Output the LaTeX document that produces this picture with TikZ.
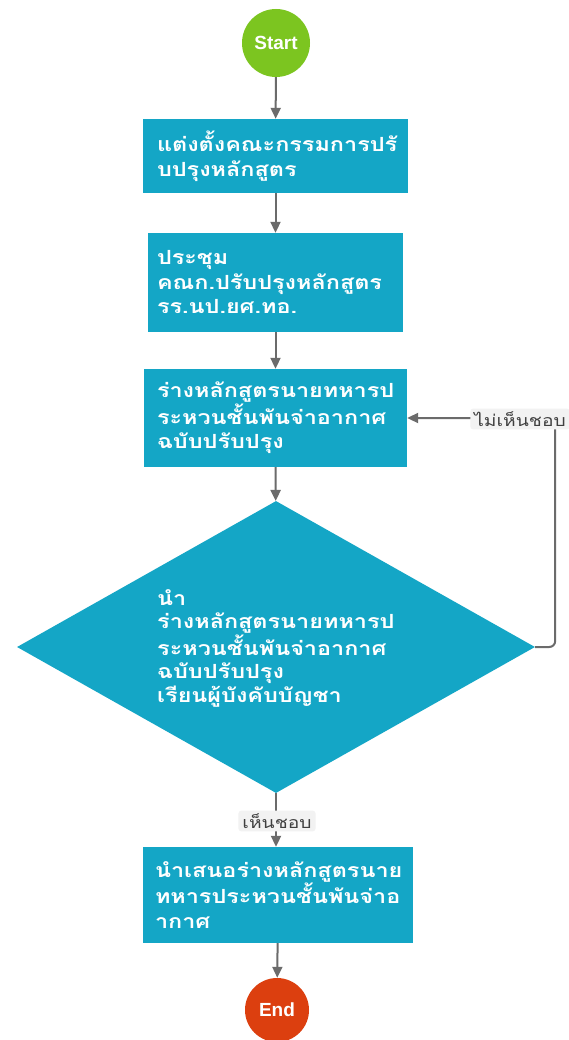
\documentclass[tikz,border=0pt]{standalone}
\usepackage{fontspec}
\newfontfamily\thaifont[Script=Thai, FakeStretch=1.2]{Loma}
\newfontfamily\endfont{Liberation Sans}
\usetikzlibrary{shapes.geometric,arrows.meta}
\definecolor{boxc}{HTML}{14A6C6}
\definecolor{startc}{HTML}{7CC520}
\definecolor{endc}{HTML}{DC3F0F}
\definecolor{linec}{HTML}{6B6B6B}
\definecolor{lblbg}{HTML}{F2F2F2}
\definecolor{lbltext}{HTML}{404040}
\tikzset{
  box/.style={draw=none, fill=boxc, text=white, align=left, inner ysep=4pt,
    font=\thaifont\bfseries\fontsize{19.5}{24.5}\selectfont},
  term/.style={circle, draw=none, text=white, minimum size=#1, inner sep=0pt,
    font=\endfont\bfseries\fontsize{19}{22}\selectfont},
  dec/.style={shape=diamond, fill=boxc, draw=none, inner sep=0pt},
  dectext/.style={text=white, align=left, inner sep=0pt, anchor=west,
    font=\thaifont\bfseries\fontsize{19.5}{23.5}\selectfont},
  conn/.style={draw=linec, line width=2pt, -{Triangle[length=11pt,width=10pt]}},
  lbl/.style={fill=lblbg, rounded corners=3pt, text=lbltext, inner xsep=4pt, inner ysep=3pt,
    font=\thaifont\fontsize{16}{19}\selectfont}
}
\begin{document}
\begin{tikzpicture}[x=1pt,y=-1pt]
\useasboundingbox[fill=white] (0,0) rectangle (569,1040);

\node[term=68pt, fill=startc] (start) at (276,43) {Start};
\node[box, text width=237pt, inner xsep=14pt, minimum height=74pt] (b1) at (275.5,156)
  {แต่งตั้งคณะกรรมการปรั\\บปรุงหลักสูตร};
\node[box, text width=237pt, inner xsep=9pt, minimum height=99pt] (b2) at (275.5,282.5)
  {ประชุม\\คณก.ปรับปรุงหลักสูตร\\รร.นป.ยศ.ทอ.};
\node[box, text width=237pt, inner xsep=13pt, minimum height=98pt] (b3) at (275.5,418)
  {ร่างหลักสูตรนายทหารป\\ระหวนชั้นพันจ่าอากาศ\\ฉบับปรับปรุง};
\node[dec, minimum width=518pt, minimum height=292pt] (d) at (276,647) {};
\node[dectext] (dt) at (157,648)
  {นำ\\ร่างหลักสูตรนายทหารป\\ระหวนชั้นพันจ่าอากาศ\\ฉบับปรับปรุง\\เรียนผู้บังคับบัญชา};
\node[box, text width=246pt, inner xsep=12pt, minimum height=96pt] (b4) at (278,895)
  {นำเสนอร่างหลักสูตรนาย\\ทหารประหวนชั้นพันจ่าอ\\ากาศ};
\node[term=64pt, fill=endc] (end) at (277,1010) {End};

\draw[conn] (start) -- (b1);
\draw[conn] (b1) -- (b2);
\draw[conn] (b2) -- (b3);
\draw[conn] (b3) -- (d);
\draw[conn, rounded corners=6pt] (d.east) -- ++(20,0) |- (b3.east);
\node[lbl] (no) at (520,419) {ไม่เห็นชอบ};
\draw[conn] (d.south) -- (d.south |- b4.north);
\node[lbl] (yes) at (277,821) {เห็นชอบ};
\draw[conn] (b4) -- (end);
\end{tikzpicture}
\end{document}
